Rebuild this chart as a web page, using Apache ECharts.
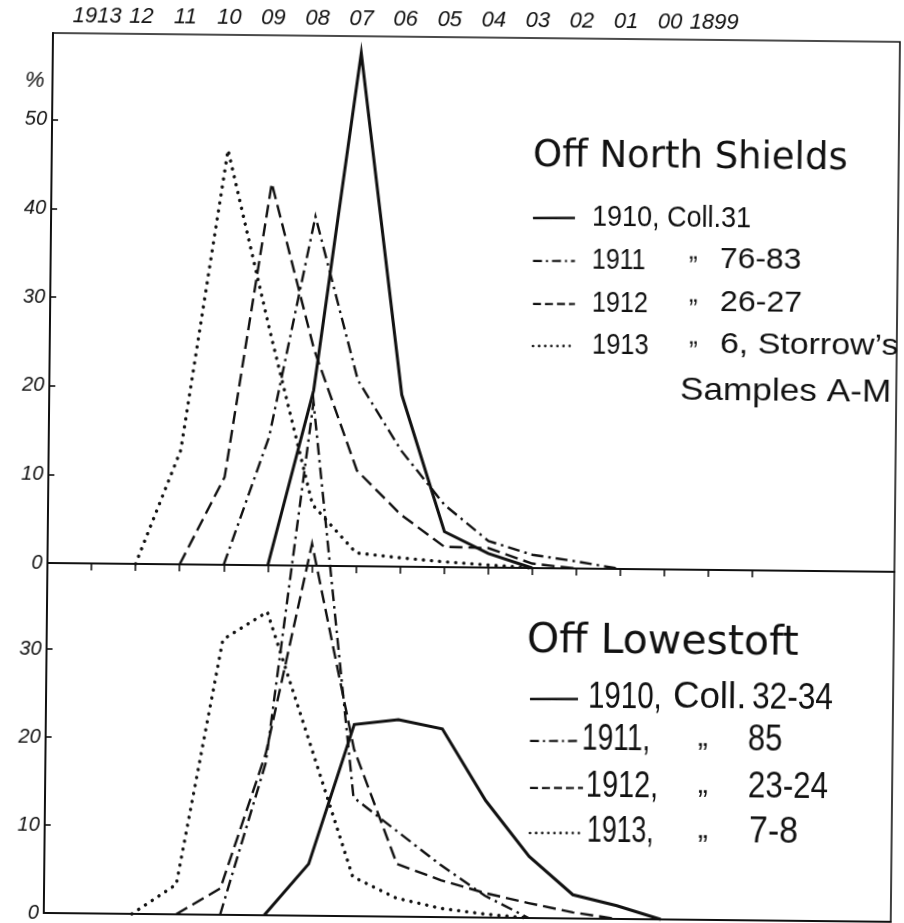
<!DOCTYPE html>
<html>
<head>
<meta charset="utf-8">
<script src="https://cdn.jsdelivr.net/npm/echarts@6/dist/echarts.min.js"></script>
<style>
  html, body { margin: 0; padding: 0; background: #fff; }
  #chart { width: 904px; height: 923px; transform: rotate(0.6deg); transform-origin: 53px 33px; }
</style>
</head>
<body>
<div id="chart"></div>
<script>
// ---- data (year classes on the x axis, percentages on the y axis) ----
const yearClasses = [1913, 1912, 1911, 1910, 1909, 1908, 1907, 1906, 1905, 1904, 1903, 1902, 1901, 1900];

// Off North Shields
const north1910 = [null, null, null, null, 0, 19.8, 57.9, 19.4, 4.0, 1.6, 0, null, null, null];
const north1911 = [null, null, null, 0, 14.5, 39.4, 21.0, 13.1, 7.0, 3.0, 1.5, 0.8, 0, null];
const north1912 = [null, null, 0, 9.9, 43.1, 24.4, 10.8, 5.9, 2.3, 2.2, 0.5, 0, null, null];
const north1913 = [null, 0, 12.9, 46.8, 26.3, 6.9, 1.5, 1.0, 0.6, 0.3, 0, null, null, null];

// Off Lowestoft
const low1910 = [null, null, null, null, 0, 5.9, 21.8, 22.4, 21.4, 13.3, 7.0, 2.7, 1.5, 0];
const low1911 = [null, null, null, 0, 17.3, 58.4, 13.5, 9.7, 5.9, 2.5, 0, null, null, null];
const low1912 = [null, null, 0, 3.0, 18.4, 42.3, 19.0, 6.0, 4.2, 2.8, 1.7, 0.7, 0, null];
const low1913 = [null, 0, 3.4, 31.3, 34.5, 19.6, 4.5, 2.1, 1.0, 0.4, 0, null, null, null];

// axis ticks / labels
const xTickYears = [1913, 1912, 1911, 1910, 1909, 1908, 1907, 1906, 1905, 1904, 1903, 1902, 1901, 1900, 1899, 1898];
const xLabelYears = [1913, 1912, 1911, 1910, 1909, 1908, 1907, 1906, 1905, 1904, 1903, 1902, 1901, 1900, 1899];
const northTicks = [0, 10, 20, 30, 40, 50];
const lowTicks = [0, 10, 20, 30];

// ---- chart ----
const chart = echarts.init(document.getElementById('chart'), null, { renderer: 'canvas' });

const INK = '#111';
const axisFont = { fontFamily: 'Liberation Sans', fontStyle: 'italic', color: INK };

// the page is tilted slightly (like the scanned original); convert picture coords to chart coords
const TILT = 0.6 * Math.PI / 180, SN = Math.sin(TILT), CS = Math.cos(TILT);
function U(x, y) {
  const dx = x - 53, dy = y - 33;
  return [53 + dx * CS + dy * SN, 33 - dx * SN + dy * CS];
}

const styles = {
  solid:   { color: INK, width: 3, type: 'solid' },
  dashdot: { color: INK, width: 2.4, type: [12, 5, 2.5, 5] },
  dashed:  { color: INK, width: 2.4, type: [13, 6] },
  dotted:  { color: INK, width: 3.4, type: [0.1, 8], cap: 'round' }
};

function pairs(vals) {
  return yearClasses.map((y, i) => [y, vals[i]]);
}
function mk(name, vals, st, idx) {
  return {
    name, type: 'line', data: pairs(vals), xAxisIndex: idx, yAxisIndex: idx,
    symbol: 'none', clip: false, silent: true, animation: false,
    lineStyle: Object.assign({ join: 'miter' }, st)
  };
}

const xMin = 1894.78, xMax = 1914;

function yearLabel(v) {
  const y = Math.round(v);
  if (y === 1913 || y === 1899) return String(y);
  return String(y % 100).padStart(2, '0');
}

function legendLine(x1, x2, y, st) {
  const a = U(x1, y), b = U(x2, y);
  return {
    type: 'line', silent: true,
    shape: { x1: a[0], y1: a[1], x2: b[0], y2: b[1] },
    style: { stroke: INK, lineWidth: st.lw, lineDash: st.dash || null, lineCap: st.cap || 'butt' }
  };
}
function txt(text, x, y, size, opts) {
  opts = opts || {};
  const p = U(x, y);
  return {
    type: 'text', silent: true, x: p[0], y: p[1],
    scaleX: opts.sx || 1, scaleY: 1,
    style: {
      text, x: 0, y: 0, fill: INK,
      font: (opts.italic ? 'italic ' : '') + size + 'px ' + (opts.family || '"Liberation Sans"'),
      textAlign: 'left', textVerticalAlign: 'middle', align: 'left', verticalAlign: 'middle'
    }
  };
}

const legSolid = { lw: 2.6 };
const legDashDot = { lw: 2.2, dash: [9, 4, 2, 4] };
const legDashed = { lw: 2.2, dash: [8, 4] };
const legDotted = { lw: 2.6, dash: [0.1, 6], cap: 'round' };

const rowFont = 30;
const lowFont = 36;

const option = {
  backgroundColor: '#fff',
  animation: false,
  grid: [
    { left: 53, top: 33, width: 847, height: 530, show: true, borderColor: INK, borderWidth: 1.6, backgroundColor: 'transparent' },
    { left: 53, top: 563, width: 847, height: 354, show: true, borderColor: INK, borderWidth: 1.6, backgroundColor: 'transparent' }
  ],
  xAxis: [
    {
      gridIndex: 0, type: 'value', position: 'top', inverse: true, min: xMin, max: xMax,
      axisLine: { show: true, lineStyle: { color: INK, width: 2 } },
      axisTick: { show: true, inside: true, length: 7, customValues: xTickYears, lineStyle: { color: INK, width: 1.6 } },
      axisLabel: Object.assign({ show: true, fontSize: 22, margin: 6, customValues: xLabelYears, formatter: yearLabel }, axisFont),
      splitLine: { show: false }
    },
    {
      gridIndex: 1, type: 'value', position: 'bottom', inverse: true, min: xMin, max: xMax,
      axisLine: { show: true, lineStyle: { color: INK, width: 2 } },
      axisTick: { show: false }, axisLabel: { show: false }, splitLine: { show: false }
    }
  ],
  yAxis: [
    {
      gridIndex: 0, type: 'value', min: 0, max: 59.8,
      axisLine: { show: true, lineStyle: { color: INK, width: 2 } },
      axisTick: { show: true, inside: true, length: 6, customValues: northTicks, lineStyle: { color: INK, width: 1.6 } },
      axisLabel: Object.assign({ show: true, fontSize: 20, margin: 5, customValues: northTicks }, axisFont),
      splitLine: { show: false }
    },
    {
      gridIndex: 1, type: 'value', min: 0, max: 39.8,
      axisLine: { show: true, lineStyle: { color: INK, width: 2 } },
      axisTick: { show: true, inside: true, length: 6, customValues: lowTicks, lineStyle: { color: INK, width: 1.6 } },
      axisLabel: Object.assign({ show: true, fontSize: 20, margin: 5, customValues: lowTicks }, axisFont),
      splitLine: { show: false }
    }
  ],
  series: [
    mk('North 1910', north1910, styles.solid, 0),
    mk('North 1911', north1911, styles.dashdot, 0),
    mk('North 1912', north1912, styles.dashed, 0),
    mk('North 1913', north1913, styles.dotted, 0),
    mk('Lowestoft 1910', low1910, styles.solid, 1),
    mk('Lowestoft 1911', low1911, styles.dashdot, 1),
    mk('Lowestoft 1912', low1912, styles.dashed, 1),
    mk('Lowestoft 1913', low1913, styles.dotted, 1)
  ],
  graphic: [
    txt('%', 25, 81, 22, { italic: true }),
    // Off North Shields
    txt('Off North Shields', 533, 156, 37, { family: '"DejaVu Sans"' }),
    legendLine(533, 575, 218, legSolid),
    txt('1910, Coll.31', 592, 217, rowFont, { sx: 0.9 }),
    legendLine(533, 575, 261, legDashDot),
    txt('1911', 592, 260, rowFont, { sx: 0.83 }),
    txt('\u201E', 689, 252, 26, {}),
    txt('76-83', 720, 260, rowFont, { sx: 1.06 }),
    legendLine(533, 575, 304, legDashed),
    txt('1912', 592, 303, rowFont, { sx: 0.84 }),
    txt('\u201E', 689, 295, 26, {}),
    txt('26-27', 720, 303, rowFont, { sx: 1.07 }),
    legendLine(533, 575, 346, legDotted),
    txt('1913', 592, 345, rowFont, { sx: 0.85 }),
    txt('\u201E', 689, 337, 26, {}),
    txt('6, Storrow\u2019s', 720, 345, rowFont, { sx: 1.13 }),
    txt('Samples A-M', 680, 391, 32, { sx: 1.1 }),
    // Off Lowestoft
    txt('Off Lowestoft', 527, 641, 41, { family: '"DejaVu Sans"' }),
    legendLine(530, 578, 699, legSolid),
    txt('1910,', 588, 698, lowFont, { sx: 0.82 }),
    txt('Coll.', 673, 698, lowFont, { sx: 1.02 }),
    txt('32-34', 752, 698, lowFont, { sx: 0.88 }),
    legendLine(530, 580, 741, legDashDot),
    txt('1911,', 582, 740, lowFont, { sx: 0.78 }),
    txt('\u201E', 698, 738, 30, {}),
    txt('85', 748, 740, lowFont, { sx: 0.86 }),
    legendLine(530, 583, 788, legDashed),
    txt('1912,', 586, 787, lowFont, { sx: 0.8 }),
    txt('\u201E', 698, 785, 30, {}),
    txt('23-24', 748, 787, lowFont, { sx: 0.87 }),
    legendLine(530, 584, 833, legDotted),
    txt('1913,', 587, 832, lowFont, { sx: 0.74 }),
    txt('\u201E', 698, 830, 30, {}),
    txt('7-8', 749, 832, lowFont, { sx: 0.94 })
  ]
};

chart.setOption(option);
</script>
</body>
</html>
